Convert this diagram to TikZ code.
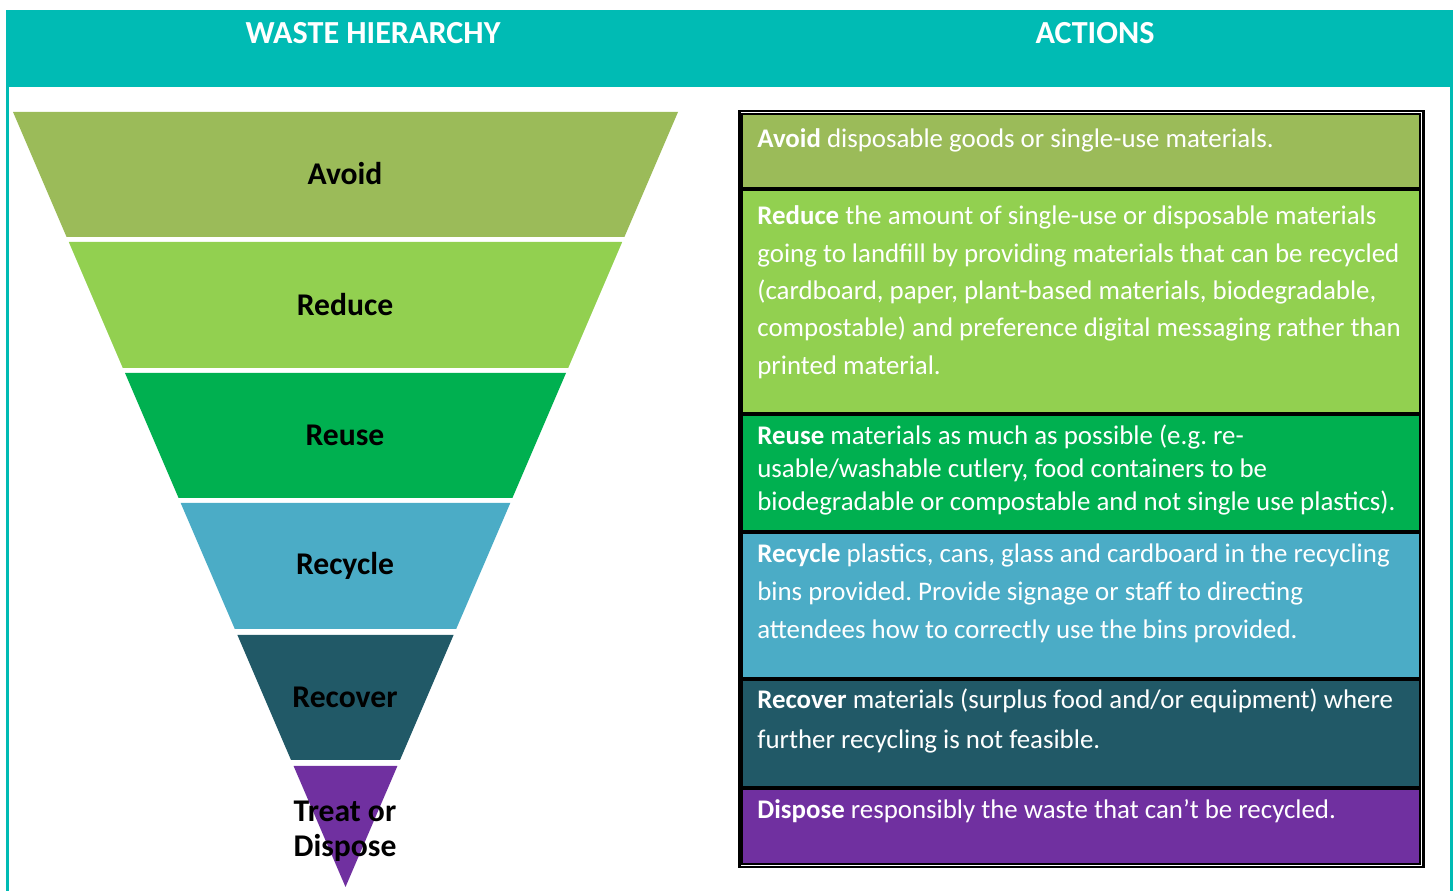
\documentclass[tikz,border=0pt]{standalone}
\usepackage{fontspec}
\setmainfont{Carlito}
\frenchspacing

\definecolor{headteal}{HTML}{00BBB4}
\definecolor{avoidgreen}{HTML}{9BBB59}
\definecolor{reducegreen}{HTML}{92D050}
\definecolor{reusegreen}{HTML}{00B050}
\definecolor{recycleblue}{HTML}{4BACC6}
\definecolor{recoverteal}{HTML}{215967}
\definecolor{disposepurple}{HTML}{7030A0}

\begin{document}
\begin{tikzpicture}[x=0.02cm,y=-0.02cm] %% waste hierarchy table
	\tikzstyle{head}=[font=\fontsize{18.3}{22}\selectfont\bfseries,text=white,inner sep=0pt];
	\tikzstyle{tierlabel}=[font=\fontsize{18}{19.8}\selectfont\bfseries,text=black,align=center,inner sep=0pt];
	\tikzstyle{row}=[draw=black,line width=0.6pt];
	\tikzstyle{rowtext}=[anchor=north west,inner sep=0pt,text=white,align=left,font=\fontsize{15.3}{21.3}\selectfont];
	\useasboundingbox (0,0) rectangle (1455,891);
	% header band and side rules
	\fill[headteal] (6,10) rectangle (1453,87);
	\fill[headteal] (6,87) rectangle (9,891);
	\fill[headteal] (1450,87) rectangle (1453,891);
	\node[head] (hier) at (373,33) {WASTE HIERARCHY};
	\node[head] (act)  at (1095,33) {ACTIONS};
	% funnel
	\fill[avoidgreen]    (13,112) -- (678,112) -- (624.4,237) -- (66.6,237) -- cycle;
	\fill[reducegreen]   (68.8,242) -- (622.2,242) -- (568.2,368) -- (122.8,368) -- cycle;
	\fill[reusegreen]    (125,373) -- (566,373) -- (512.4,498) -- (178.6,498) -- cycle;
	\fill[recycleblue]   (180.7,503) -- (510.3,503) -- (456.2,629) -- (234.8,629) -- cycle;
	\fill[recoverteal]   (237.4,635) -- (453.6,635) -- (400,760) -- (291,760) -- cycle;
	\fill[disposepurple] (293.6,766) -- (397.4,766) -- (345.5,887) -- cycle;
	\node[tierlabel] (avoid)   at (345,174) {Avoid};
	\node[tierlabel] (reduce)  at (345,305) {Reduce};
	\node[tierlabel] (reuse)   at (345,435) {Reuse};
	\node[tierlabel] (recycle) at (345,566) {Recycle};
	\node[tierlabel] (recover) at (345,697) {Recover};
	\node[tierlabel] (treat)   at (345,831) {Treat or\\Dispose};
	% actions table
	\draw[line width=1.5pt] (739.5,111) rectangle (1423.5,867);
	\filldraw[row,fill=avoidgreen]    (742,114) rectangle (1420,188);
	\filldraw[row,fill=reducegreen]   (742,190) rectangle (1420,413);
	\filldraw[row,fill=reusegreen]    (742,415) rectangle (1420,531);
	\filldraw[row,fill=recycleblue]   (742,533) rectangle (1420,678);
	\filldraw[row,fill=recoverteal]   (742,680) rectangle (1420,787);
	\filldraw[row,fill=disposepurple] (742,789) rectangle (1420,864);
	\node[rowtext] (tavoid) at (757,128.5)
		{\textbf{Avoid} disposable goods or single-use materials.};
	\node[rowtext] (treduce) at (757,205.5)
		{\textbf{Reduce} the amount of single-use or disposable materials\\
		going to landfill by providing materials that can be recycled\\
		(cardboard, paper, plant-based materials, biodegradable,\\
		compostable) and preference digital messaging rather than\\
		printed material.};
	\node[rowtext,font=\fontsize{15.3}{18.7}\selectfont] (treuse) at (757,425)
		{\textbf{Reuse} materials as much as possible (e.g. re-\\
		usable/washable cutlery, food containers to be\\
		biodegradable or compostable and not single use plastics).};
	\node[rowtext,font=\fontsize{15.3}{21.5}\selectfont] (trecycle) at (757,543.5)
		{\textbf{Recycle} plastics, cans, glass and cardboard in the recycling\\
		bins provided. Provide signage or staff to directing\\
		attendees how to correctly use the bins provided.};
	\node[rowtext,font=\fontsize{15.3}{22.7}\selectfont] (trecover) at (757,688.5)
		{\textbf{Recover} materials (surplus food and/or equipment) where\\
		further recycling is not feasible.};
	\node[rowtext] (tdispose) at (757,799.5)
		{\textbf{Dispose} responsibly the waste that can’t be recycled.};
\end{tikzpicture}
\end{document}
